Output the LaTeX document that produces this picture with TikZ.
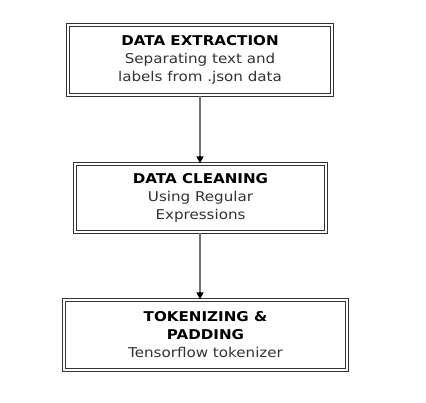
\documentclass[tikz,border=0pt]{standalone}
\usepackage{fontspec}
\setmainfont[FakeStretch=1.12]{DejaVu Sans}
\usetikzlibrary{arrows.meta,positioning}
\definecolor{subtext}{HTML}{333333}
\begin{document}
\begin{tikzpicture}[x=1pt, y=1pt, thick,
        main/.style = {draw=black!80, double=white, double distance=2pt, line width=1.3pt,
            align=center, font=\fontsize{13.5}{18}\selectfont, inner sep=2pt},
        flow/.style = {draw=black!55, line width=1.6pt, -{Triangle[length=7pt,width=7pt,black]}}]
        \useasboundingbox[fill=white] (0,0) rectangle (426,-402);
        \node[main, minimum width=264pt, minimum height=70pt] (1) at (200,-60)
            {\textbf{DATA EXTRACTION}\\\color{subtext}Separating text and\\\color{subtext}labels from .json data};
        \node[main, minimum width=251pt, minimum height=68pt] (2) at (200.5,-198)
            {\textbf{DATA CLEANING}\\\color{subtext}Using Regular\\\color{subtext}Expressions};
        \node[main, minimum width=283pt, minimum height=70pt] (3) at (205.5,-335)
            {\textbf{TOKENIZING \&}\\\textbf{PADDING}\\\color{subtext}Tensorflow tokenizer};
        \draw[flow] (1.south -| 200,0) -- (2.north -| 200,0);
        \draw[flow] (2.south -| 200,0) -- (3.north -| 200,0);
    \end{tikzpicture}
\end{document}
